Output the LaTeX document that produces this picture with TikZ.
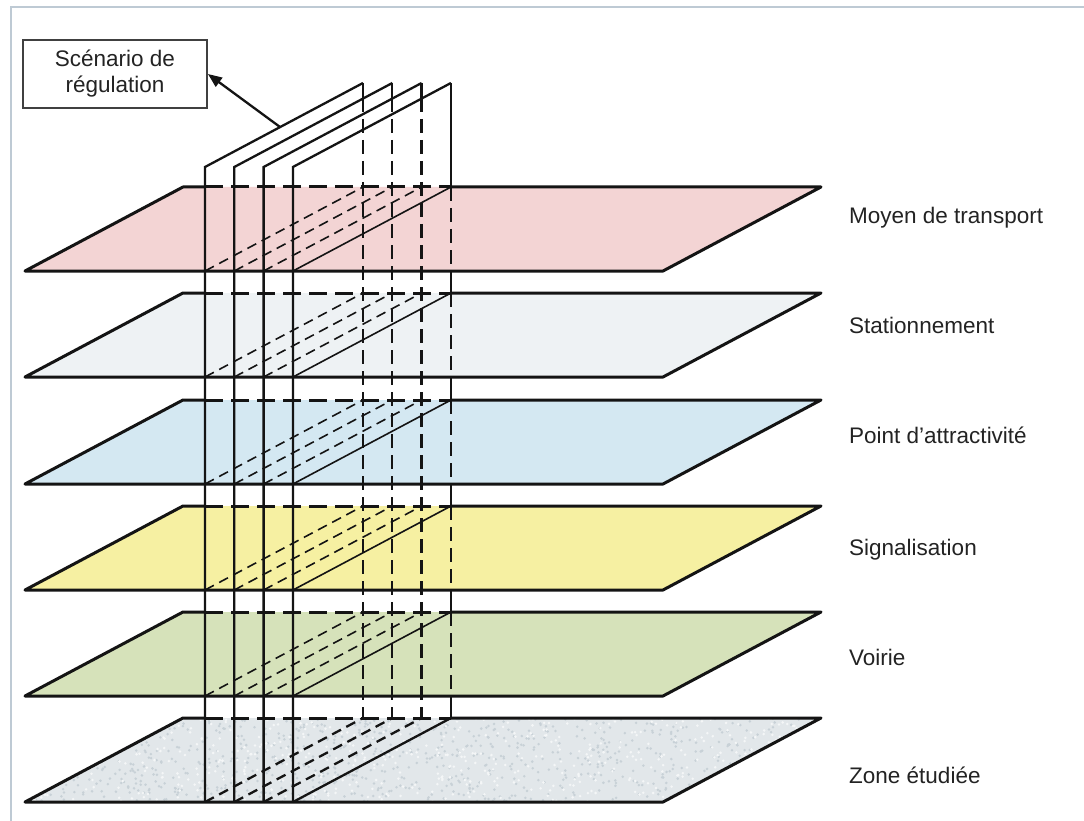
\documentclass[tikz,border=0pt]{standalone}
\usepackage{fontspec}
\setmainfont{Liberation Sans}
\usetikzlibrary{arrows.meta}
\definecolor{cMoyen}{RGB}{243,212,212}
\definecolor{cStat}{RGB}{238,242,244}
\definecolor{cPoint}{RGB}{212,232,242}
\definecolor{cSig}{RGB}{246,240,162}
\definecolor{cVoirie}{RGB}{214,226,186}
\definecolor{cZone}{RGB}{226,231,234}
\definecolor{zoneDark}{RGB}{200,209,215}
\definecolor{zoneLight}{RGB}{244,246,247}
\definecolor{frameC}{RGB}{190,202,212}
\definecolor{lineC}{RGB}{20,20,20}
\definecolor{txtC}{RGB}{35,35,35}
\begin{document}
\begin{tikzpicture}[x=1pt,y=-1pt,
  edge/.style={draw=lineC, line width=3pt, line join=round},
  sheetline/.style={draw=lineC, line width=2.3pt},
  hid/.style={draw=lineC, line width=2.3pt, dash pattern=on 14pt off 7pt},
  hidedge/.style={draw=lineC, line width=3pt, dash pattern=on 18pt off 8pt},
  inter/.style={draw=lineC, line width=1.6pt, dash pattern=on 10pt off 6pt},
  intersolid/.style={draw=lineC, line width=1.6pt},
  lbl/.style={anchor=base west, font=\fontsize{22.5}{26}\selectfont, text=txtC, inner sep=0pt}]
\useasboundingbox (0,0) rectangle (1084,821);
\fill[white] (0,0) rectangle (1084,821);
\draw[frameC, line width=2pt] (11,821) -- (11,7) -- (1084,7);

% horizontal planes: fills
\foreach \yb/\col in {271/cMoyen, 377/cStat, 484/cPoint, 590/cSig, 696/cVoirie, 802/cZone}{
  \fill[\col] (25,\yb) -- (663,\yb) -- (821,\yb-84) -- (183,\yb-84) -- cycle;
}
% texture of the studied zone
\begin{scope}
  \clip (25,802) -- (663,802) -- (821,718) -- (183,718) -- cycle;
  \pgfmathsetseed{7}
  \foreach \n in {1,...,900}{
    \pgfmathsetmacro\rx{25+rnd*796}
    \pgfmathsetmacro\ry{718+rnd*84}
    \fill[zoneDark] (\rx,\ry) circle (1.4pt);
  }
  \foreach \n in {1,...,600}{
    \pgfmathsetmacro\rx{25+rnd*796}
    \pgfmathsetmacro\ry{718+rnd*84}
    \fill[zoneLight] (\rx,\ry) circle (1.4pt);
  }
\end{scope}

% plane outlines and intersection lines
\foreach \yb in {271,377,484,590,696,802}{
  \draw[edge] (205,\yb-84) -- (183,\yb-84) -- (25,\yb) -- (663,\yb) -- (821,\yb-84) -- (451,\yb-84);
  \draw[hidedge] (205,\yb-84) -- (451,\yb-84);
}
\foreach \yb in {271,377,484,590,696}{
  \foreach \i in {0,1,2}{
    \draw[inter] (205+29.3*\i,\yb) -- (363+29.3*\i,\yb-84);
  }
  \draw[intersolid] (293,\yb) -- (451,\yb-84);
}
% bottom edges of the scenario sheets on the studied zone
\foreach \i in {0,1,2}{
  \draw[hid, dash pattern=on 10pt off 6pt] (205+29.3*\i,802) -- (363+29.3*\i,718);
}
\draw[sheetline] (293,802) -- (451,718);

% back edges of the sheets
\foreach \i in {0,1,2}{
  \draw[sheetline] (363+29.3*\i,83) -- (363+29.3*\i,98);
  \draw[hid] (363+29.3*\i,98) -- (363+29.3*\i,718);
}
\draw[sheetline] (451,83) -- (451,187);
\foreach \yb in {271,377,484,590,696}{
  \draw[hid] (451,\yb-84) -- (451,\yb);
  \draw[sheetline] (451,\yb) -- (451,\yb+22);
}

% front edges and top edges of the sheets
\foreach \i in {0,1,2,3}{
  \draw[sheetline] (205+29.3*\i,802) -- (205+29.3*\i,167) -- (363+29.3*\i,83);
}

% label box and arrow
\node[draw=black!75, line width=1.8pt, minimum width=184pt, minimum height=68pt,
      align=center, font=\fontsize{22.5}{26}\selectfont, text=txtC] (box) at (115,74)
      {Scénario de\\régulation};
\coordinate (src) at (280,127);
\draw[lineC, line width=2.3pt, -{Triangle[length=14pt,width=11pt]}] (src) -- (box.east);

% layer labels
\node[lbl] (l1) at (849,223) {Moyen de transport};
\node[lbl] (l2) at (849,333) {Stationnement};
\node[lbl] (l3) at (849,443) {Point d{\char"27}attractivité};
\node[lbl] (l4) at (849,555) {Signalisation};
\node[lbl] (l5) at (849,665) {Voirie};
\node[lbl] (l6) at (849,783) {Zone étudiée};
\end{tikzpicture}
\end{document}
